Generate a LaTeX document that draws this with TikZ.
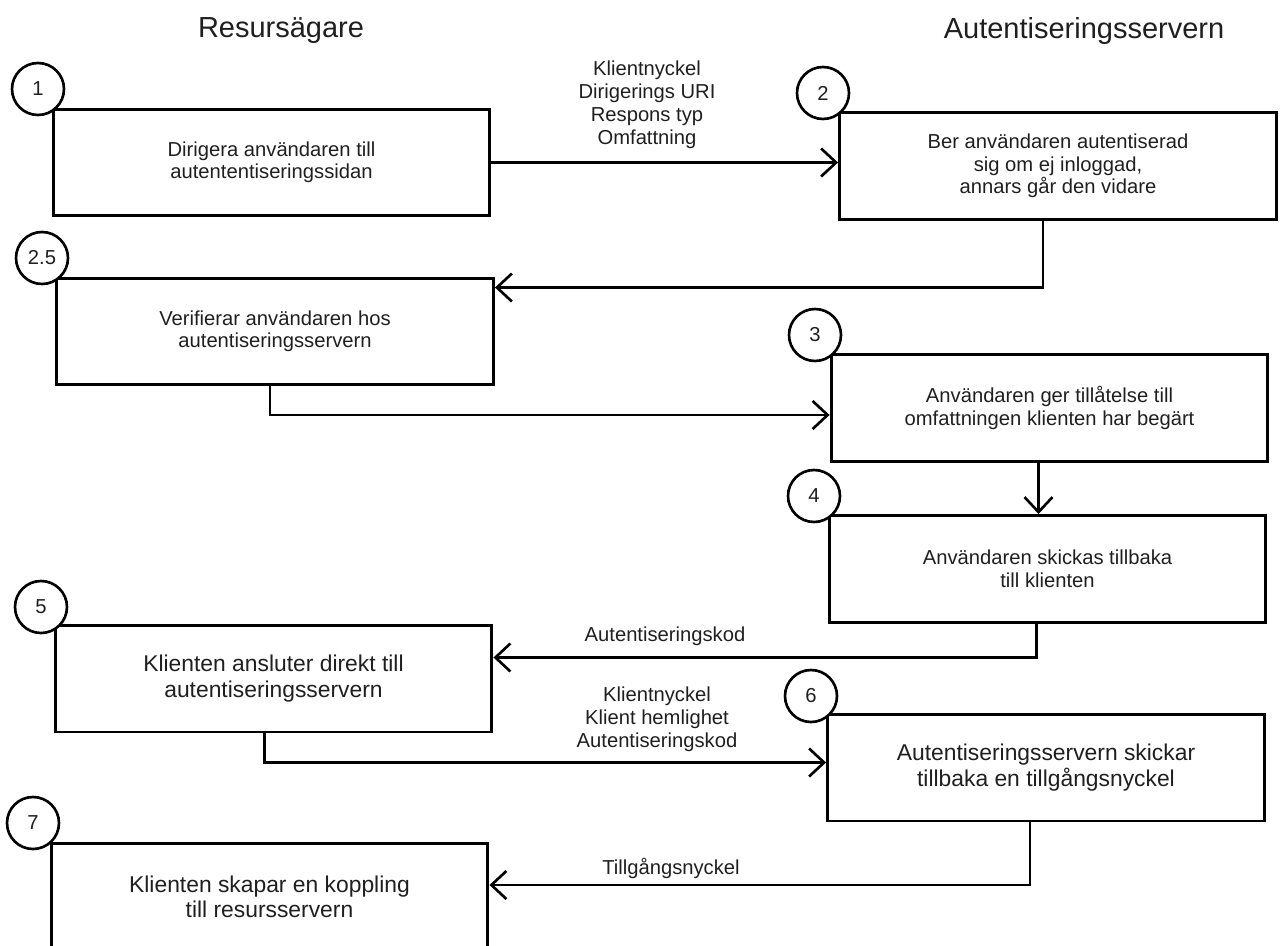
\documentclass[tikz,border=0pt]{standalone}
\usepackage{fontspec}
\setmainfont{Liberation Sans}
\usetikzlibrary{arrows.meta,positioning,calc}

\begin{document}
\begin{tikzpicture}[
    x=0.02cm, y=-0.02cm,
    >={Straight Barb[length=3mm,width=5.6mm]},
    stepbox/.style={draw,line width=1.7pt,minimum width=8.74cm,minimum height=2.14cm,
      inner sep=0pt,align=center,text=black!88,font=\fontsize{11.5}{12.8}\selectfont},
    bigbox/.style={stepbox,font=\fontsize{13}{14.4}\selectfont},
    num/.style={circle,draw,fill=white,line width=1.5pt,minimum size=1.04cm,
      inner sep=0pt,text=black!88,font=\fontsize{11.5}{13}\selectfont},
    flow/.style={->,line width=1.5pt},
    lbl/.style={align=center,text=black!88,font=\fontsize{11.5}{13}\selectfont},
    head/.style={text=black!88,font=\fontsize{16.5}{20}\selectfont}]
  \useasboundingbox (0,0) rectangle (1281,946);
  % ---- column headers ----
  \node[head] (hres) at (281,31) {Resursägare};
  \node[head] (haut) at (1084,31) {Autentiseringsservern};
  % ---- steps ----
  \node[stepbox] (b1) at (271.5,162.5) {Dirigera användaren till\\autententiseringssidan};
  \node[stepbox] (b2) at (1058,166) {Ber användaren autentiserad\\sig om ej inloggad,\\annars går den vidare};
  \node[stepbox] (b25) at (275,331.5) {Verifierar användaren hos\\autentiseringsservern};
  \node[stepbox] (b3) at (1049.5,408) {Användaren ger tillåtelse till\\omfattningen klienten har begärt};
  \node[stepbox] (b4) at (1047.5,569) {Användaren skickas tillbaka\\till klienten};
  \node[bigbox] (b5) at (273.5,678.5) {Klienten ansluter direkt till\\autentiseringsservern};
  \node[bigbox] (b6) at (1046,767.5) {Autentiseringsservern skickar\\tillbaka en tillgångsnyckel};
  \node[bigbox] (b7) at (269.5,897) {Klienten skapar en koppling\\till resursservern};
  % ---- step numbers ----
  \node[num] (n1) at (38,89) {1};
  \node[num] (n2) at (823,93) {2};
  \node[num] (n25) at (42,258) {2.5};
  \node[num] (n3) at (815,335) {3};
  \node[num] (n4) at (814,496) {4};
  \node[num] (n5) at (41,607) {5};
  \node[num] (n6) at (811,696) {6};
  \node[num] (n7) at (33,823) {7};
  % ---- flow ----
  \draw[flow] (b1.east) -- (b1.east -| b2.west);
  \node[lbl] (l12) at (647,105) {Klientnyckel\\Dirigerings URI\\Respons typ\\Omfattning};
  \draw[flow] ($(b2.south)+(-15,0)$) |- ($(b25.north east)+(0,11)$);
  \draw[flow] ($(b25.south)+(-5,0)$) |- ($(b3.west)+(0,7)$);
  \draw[flow] ($(b3.south)+(-11,0)$) coordinate (t3) -- (t3 |- b4.north);
  \draw[flow] ($(b4.south)+(-11,0)$) |- ($(b5.east)+(0,-21)$);
  \node[lbl] (l45) at (665,636) {Autentiseringskod};
  \draw[flow] ($(b5.south)+(-9,0)$) |- ($(b6.west)+(0,-5)$);
  \node[lbl] (l56) at (657,719) {Klientnyckel\\Klient hemlighet\\Autentiseringskod};
  \draw[flow] ($(b6.south)+(-16,0)$) |- ($(b7.east)+(0,-12)$);
  \node[lbl] (l67) at (671,868) {Tillgångsnyckel};
\end{tikzpicture}
\end{document}
